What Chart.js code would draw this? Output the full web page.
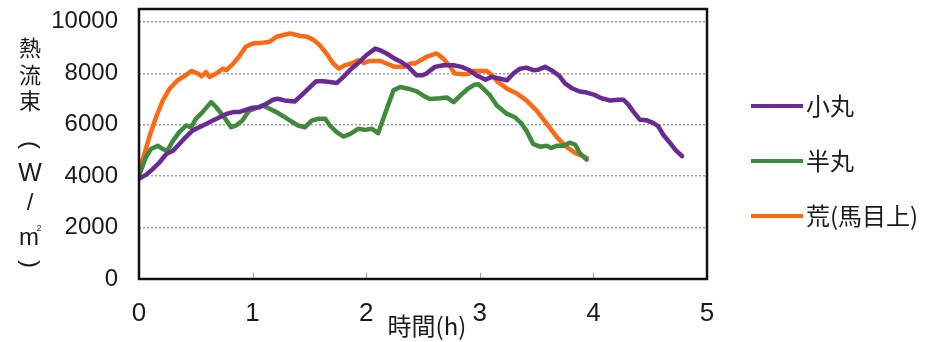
<!DOCTYPE html>
<html lang="ja">
<head>
<meta charset="utf-8">
<title>熱流束の時間変化</title>
<script src="https://cdn.jsdelivr.net/npm/chart.js@4/dist/chart.umd.min.js"></script>
<style>
  html, body { margin: 0; padding: 0; background: #ffffff; }
  #wrap { width: 938px; height: 342px; }
</style>
</head>
<body>
<div id="wrap"><canvas id="heatFlux" width="938" height="342"></canvas></div>
<script>
// 時間 (h) と熱流束 (W/㎡) の計測値
const hoursKomaru = [0.0, 0.06, 0.12, 0.18, 0.24, 0.30, 0.355, 0.41, 0.47, 0.53, 0.59, 0.65, 0.71, 0.77, 0.83, 0.88, 0.94, 1.0, 1.06, 1.12, 1.18, 1.22, 1.28, 1.37, 1.43, 1.505, 1.56, 1.62, 1.68, 1.74, 1.80, 1.86, 1.93, 2.0, 2.08, 2.12, 2.18, 2.25, 2.31, 2.37, 2.415, 2.445, 2.49, 2.53, 2.605, 2.68, 2.77, 2.84, 2.91, 2.97, 3.05, 3.105, 3.18, 3.24, 3.295, 3.355, 3.41, 3.47, 3.515, 3.575, 3.63, 3.70, 3.75, 3.81, 3.88, 3.94, 4.01, 4.07, 4.15, 4.22, 4.265, 4.31, 4.35, 4.41, 4.47, 4.53, 4.57, 4.615, 4.675, 4.72, 4.78];
const fluxKomaru = [3900, 4050, 4270, 4530, 4860, 4990, 5250, 5510, 5770, 5900, 6030, 6160, 6290, 6420, 6490, 6490, 6580, 6660, 6680, 6810, 6970, 7010, 6945, 6905, 7140, 7465, 7690, 7690, 7660, 7620, 7860, 8140, 8400, 8700, 8960, 8900, 8770, 8570, 8440, 8250, 8050, 7920, 7920, 7990, 8250, 8310, 8310, 8250, 8120, 7920, 7750, 7860, 7790, 7730, 7990, 8180, 8220, 8120, 8140, 8250, 8120, 7900, 7610, 7420, 7290, 7250, 7160, 7030, 6940, 6970, 6970, 6770, 6520, 6190, 6170, 6060, 5940, 5610, 5290, 5030, 4775];

const hoursHanmaru = [0.0, 0.06, 0.105, 0.165, 0.21, 0.25, 0.30, 0.355, 0.415, 0.46, 0.50, 0.56, 0.635, 0.68, 0.75, 0.81, 0.855, 0.91, 0.97, 1.015, 1.09, 1.15, 1.21, 1.27, 1.33, 1.40, 1.46, 1.52, 1.58, 1.64, 1.68, 1.74, 1.80, 1.86, 1.93, 1.99, 2.05, 2.105, 2.165, 2.24, 2.30, 2.37, 2.445, 2.50, 2.56, 2.65, 2.71, 2.77, 2.83, 2.89, 2.95, 2.99, 3.03, 3.09, 3.15, 3.24, 3.31, 3.37, 3.41, 3.47, 3.53, 3.59, 3.63, 3.68, 3.74, 3.79, 3.84, 3.88, 3.94];
const fluxHanmaru = [4020, 4730, 5055, 5185, 5055, 4990, 5380, 5710, 5970, 5900, 6230, 6490, 6880, 6680, 6290, 5900, 5970, 6160, 6550, 6620, 6750, 6620, 6490, 6330, 6160, 5970, 5900, 6160, 6230, 6230, 5970, 5710, 5540, 5640, 5840, 5800, 5840, 5670, 6420, 7335, 7465, 7400, 7300, 7140, 7000, 7030, 7060, 6880, 7140, 7380, 7550, 7570, 7400, 7140, 6750, 6420, 6290, 6030, 5770, 5250, 5145, 5185, 5095, 5185, 5185, 5300, 5225, 4900, 4640];

const hoursAra = [0.0, 0.05, 0.09, 0.15, 0.21, 0.27, 0.34, 0.41, 0.46, 0.52, 0.55, 0.59, 0.62, 0.68, 0.74, 0.77, 0.83, 0.88, 0.94, 1.0, 1.09, 1.15, 1.21, 1.28, 1.33, 1.42, 1.48, 1.54, 1.59, 1.65, 1.71, 1.76, 1.81, 1.87, 1.93, 1.98, 2.03, 2.12, 2.18, 2.25, 2.33, 2.39, 2.43, 2.49, 2.53, 2.62, 2.68, 2.74, 2.78, 2.86, 2.91, 2.94, 3.06, 3.11, 3.16, 3.24, 3.33, 3.41, 3.50, 3.59, 3.68, 3.76, 3.84, 3.94];
const fluxAra = [4150, 4900, 5510, 6290, 6945, 7400, 7730, 7920, 8090, 7990, 7880, 8050, 7860, 7990, 8180, 8120, 8380, 8640, 9030, 9160, 9190, 9225, 9420, 9500, 9550, 9450, 9420, 9290, 9095, 8770, 8380, 8180, 8310, 8380, 8510, 8400, 8480, 8480, 8380, 8250, 8250, 8380, 8380, 8530, 8640, 8770, 8570, 8250, 7990, 7960, 7990, 8090, 8090, 7920, 7660, 7400, 7200, 6945, 6550, 6030, 5510, 5150, 4900, 4710];

const seriesLabels = ['小丸', '半丸', '荒(馬目上)'];
const seriesColors = ['#6a2a96', '#3f8a3c', '#fb6a12'];
const xTickValues = [0, 1, 2, 3, 4, 5];
const yTickValues = [0, 2000, 4000, 6000, 8000, 10000];
const xTitle = '時間(h)';

const toPoints = (hours, flux) => hours.map((h, i) => ({ x: h, y: flux[i] }));

const CJK = '"Noto Sans CJK JP", "Noto Sans", sans-serif';
const LATIN = '"Liberation Sans", Arial, sans-serif';

// 目盛りラベル分の余白を詰めて描画領域を固定する
const noScalePadding = s => { s.paddingTop = 0; s.paddingBottom = 0; s.paddingLeft = 0; s.paddingRight = 0; };

// 縦書きの軸タイトル「熱流束（W／㎡）」
function drawVerticalTitle(ctx) {
  const cx = 30;
  ctx.fillStyle = '#1a1a1a';
  ctx.textAlign = 'center';
  ctx.textBaseline = 'middle';
  ctx.font = '22px ' + CJK;
  ctx.fillText('熱', cx, 48);
  ctx.fillText('流', cx, 75);
  ctx.fillText('束', cx, 101);

  // 縦書き用の括弧（90°回転）
  const rotated = (ch, y) => {
    ctx.save();
    ctx.translate(cx, y);
    ctx.rotate(Math.PI / 2);
    ctx.font = '24px ' + LATIN;
    ctx.fillText(ch, 0, 0);
    ctx.restore();
  };
  rotated('(', 145);
  ctx.font = '25px ' + LATIN;
  ctx.fillText('W', cx, 174);
  ctx.font = '24px ' + LATIN;
  ctx.fillText('/', cx, 203);
  ctx.fillText('m', cx - 1, 238);
  ctx.font = '9px ' + LATIN;
  ctx.fillText('2', cx + 9, 229);
  rotated(')', 264);
}

// 枠線・内向き目盛り・軸タイトル・凡例
const decorations = {
  id: 'decorations',
  afterDatasetsDraw(chart) {
    const { ctx, chartArea: a } = chart;
    const xs = chart.scales.x;
    ctx.save();
    ctx.strokeStyle = '#9a9a9a';
    ctx.lineWidth = 1;
    xTickValues.slice(1, -1).forEach(v => {
      const px = Math.round(xs.getPixelForValue(v)) + 0.5;
      ctx.beginPath();
      ctx.moveTo(px, a.bottom);
      ctx.lineTo(px, a.bottom - 6);
      ctx.stroke();
    });
    ctx.strokeStyle = '#111111';
    ctx.lineWidth = 2.5;
    ctx.strokeRect(a.left, a.top, a.right - a.left, a.bottom - a.top);
    ctx.restore();
  },
  afterDraw(chart) {
    const { ctx } = chart;
    ctx.save();
    ctx.fillStyle = '#1a1a1a';
    ctx.textBaseline = 'middle';

    // x 軸タイトル
    ctx.textAlign = 'center';
    ctx.font = '24px ' + CJK;
    ctx.fillText(xTitle, 427, 326);

    drawVerticalTitle(ctx);

    // 凡例
    ctx.textAlign = 'left';
    ctx.textBaseline = 'middle';
    ctx.font = '24px ' + CJK;
    chart.data.datasets.forEach((ds, i) => {
      const y = 106 + i * 55;
      ctx.strokeStyle = ds.borderColor;
      ctx.lineWidth = 4;
      ctx.beginPath();
      ctx.moveTo(751, y);
      ctx.lineTo(803, y);
      ctx.stroke();
      ctx.fillStyle = '#1a1a1a';
      ctx.fillText(ds.label, 806, y);
    });
    ctx.restore();
  }
};

new Chart(document.getElementById('heatFlux'), {
  type: 'line',
  data: {
    datasets: [
      { label: seriesLabels[0], data: toPoints(hoursKomaru, fluxKomaru), borderColor: seriesColors[0] },
      { label: seriesLabels[1], data: toPoints(hoursHanmaru, fluxHanmaru), borderColor: seriesColors[1] },
      { label: seriesLabels[2], data: toPoints(hoursAra, fluxAra), borderColor: seriesColors[2] }
    ]
  },
  options: {
    responsive: false,
    animation: false,
    layout: { padding: { top: 9, right: 231, left: 0, bottom: 0 } },
    elements: {
      line: { borderWidth: 4.5, tension: 0, borderJoinStyle: 'round', borderCapStyle: 'round', fill: false },
      point: { radius: 0, hoverRadius: 0 }
    },
    plugins: { legend: { display: false }, tooltip: { enabled: false } },
    scales: {
      x: {
        type: 'linear',
        min: 0,
        max: 5,
        afterBuildTicks: s => { s.ticks = xTickValues.map(v => ({ value: v })); },
        afterFit: s => { s.height = 63; noScalePadding(s); },
        grid: { display: false, drawTicks: false },
        border: { display: false },
        ticks: { padding: 19, color: '#1a1a1a', font: { family: LATIN, size: 26 }, maxRotation: 0, callback: v => String(v) }
      },
      y: {
        type: 'linear',
        min: 0,
        max: 10500,
        afterBuildTicks: s => { s.ticks = yTickValues.map(v => ({ value: v })); },
        afterFit: s => { s.width = 139; noScalePadding(s); },
        grid: {
          drawTicks: false,
          lineWidth: 1.5,
          color: c => (c.tick && c.tick.value > 0 ? '#9c9c9c' : 'rgba(0,0,0,0)')
        },
        border: { display: false, dash: [2, 2] },
        ticks: { padding: 21, color: '#1a1a1a', font: { family: LATIN, size: 24 }, callback: v => String(v) }
      }
    }
  },
  plugins: [decorations]
});
</script>
</body>
</html>
